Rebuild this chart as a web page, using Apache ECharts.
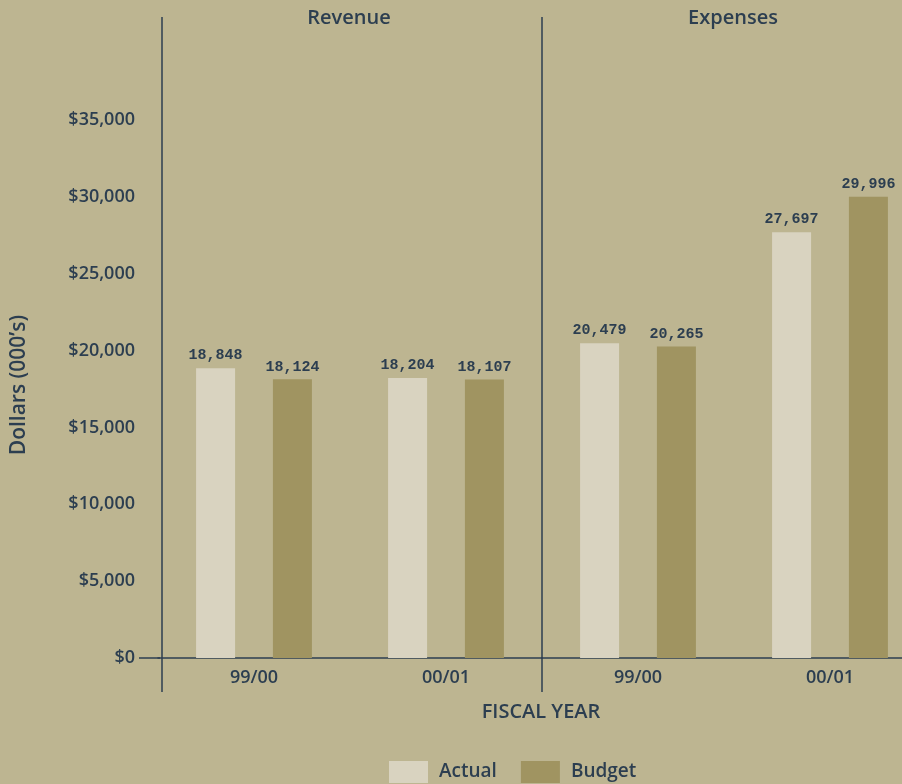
<!DOCTYPE html>
<html>
<head>
<meta charset="utf-8">
<script src="https://cdn.jsdelivr.net/npm/echarts@6/dist/echarts.min.js"></script>
<style>
  html, body { margin: 0; padding: 0; background: #BDB591; overflow: hidden; }
  #chart { width: 930px; height: 784px; }
</style>
</head>
<body>
<div id="chart"></div>
<script>
// Fiscal years shown in each panel
const fiscalYears = ['99/00', '00/01'];
// Panel titles
const panels = ['Revenue', 'Expenses'];
// Values in thousands of dollars
const revenueActual = [18848, 18204];
const revenueBudget = [18124, 18107];
const expensesActual = [20479, 27697];
const expensesBudget = [20265, 29996];

const ink = '#2C3E50';
const actualColor = '#D9D3C0';
const budgetColor = '#A09461';
const uiFont = '"Open Sans", "Noto Sans", sans-serif';
const numFont = '"Liberation Mono", "DejaVu Sans Mono", monospace';

const chart = echarts.init(document.getElementById('chart'));

const gridTop = 43, gridHeight = 615;

function barSeries(name, data, color, idx) {
  return {
    name: name,
    type: 'bar',
    xAxisIndex: idx,
    yAxisIndex: idx,
    data: data,
    barWidth: 39,
    barGap: '97%',
    itemStyle: { color: color },
    label: {
      show: true,
      position: 'top',
      distance: 5,
      color: ink,
      fontFamily: numFont,
      fontWeight: 'bold',
      fontSize: 15,
      formatter: p => p.value.toLocaleString('en-US')
    }
  };
}

const xAxisBase = {
  type: 'category',
  data: fiscalYears,
  axisLine: { show: true, lineStyle: { color: ink, width: 1.5 } },
  axisTick: { show: false },
  axisLabel: {
    color: ink, fontFamily: uiFont, fontWeight: 600, fontSize: 18, margin: 11
  }
};

const yAxisBase = {
  type: 'value',
  min: 0,
  max: 40000,
  interval: 5000,
  splitLine: { show: false },
  axisTick: { show: false },
  axisLine: { show: false }
};

chart.setOption({
  backgroundColor: '#BDB591',
  animation: false,
  grid: [
    { left: 158, top: gridTop, width: 384, height: gridHeight },
    { left: 542, top: gridTop, width: 384, height: gridHeight }
  ],
  xAxis: [
    Object.assign({ gridIndex: 0 }, xAxisBase),
    Object.assign({ gridIndex: 1 }, xAxisBase)
  ],
  yAxis: [
    Object.assign({ gridIndex: 0 }, yAxisBase, {
      axisLabel: {
        color: ink, fontFamily: uiFont, fontWeight: 600, fontSize: 18, margin: 23,
        showMaxLabel: false,
        formatter: v => '$' + v.toLocaleString('en-US')
      }
    }),
    Object.assign({ gridIndex: 1 }, yAxisBase, { axisLabel: { show: false } })
  ],
  title: [
    { text: panels[0], left: 344, top: 3, textAlign: 'center',
      textStyle: { color: ink, fontFamily: uiFont, fontWeight: 600, fontSize: 20 } },
    { text: panels[1], left: 728, top: 3, textAlign: 'center',
      textStyle: { color: ink, fontFamily: uiFont, fontWeight: 600, fontSize: 20 } }
  ],
  legend: {
    data: ['Actual', 'Budget'],
    left: 384,
    top: 756,
    itemWidth: 39,
    itemHeight: 22,
    itemGap: 24,
    icon: 'rect',
    textStyle: {
      color: ink, fontFamily: uiFont, fontWeight: 600, fontSize: 19,
      padding: [0, 0, 0, 6]
    }
  },
  series: [
    barSeries('Actual', revenueActual, actualColor, 0),
    barSeries('Budget', revenueBudget, budgetColor, 0),
    barSeries('Actual', expensesActual, actualColor, 1),
    barSeries('Budget', expensesBudget, budgetColor, 1)
  ],
  graphic: [
    // panel dividers
    { type: 'line', shape: { x1: 162, y1: 17, x2: 162, y2: 692 },
      style: { stroke: ink, lineWidth: 1.5 } },
    { type: 'line', shape: { x1: 542, y1: 17, x2: 542, y2: 692 },
      style: { stroke: ink, lineWidth: 1.5 } },
    // baseline stub left of the value axis
    { type: 'line', shape: { x1: 139, y1: 658, x2: 160, y2: 658 },
      style: { stroke: ink, lineWidth: 1.5 } },
    // axis names
    { type: 'text', x: 541, y: 712,
      style: { text: 'FISCAL YEAR', fill: ink, font: '600 20px ' + uiFont,
               textAlign: 'center', textVerticalAlign: 'middle' } },
    { type: 'text', x: 19, y: 385, rotation: Math.PI / 2,
      style: { text: 'Dollars (000\u2019s)', fill: ink, font: '600 21px ' + uiFont,
               textAlign: 'center', textVerticalAlign: 'middle' } }
  ]
});
</script>
</body>
</html>
